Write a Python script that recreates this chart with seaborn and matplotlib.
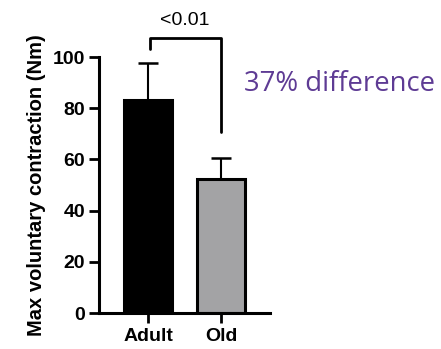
import matplotlib
matplotlib.use("Agg")
import matplotlib.pyplot as plt
import seaborn as sns
import pandas as pd

groups = ["Adult", "Old"]
means = [83.2, 52.3]
errors = [14.3, 8.4]
colors = ["#000000", "#a2a2a6"]
p_label = "<0.01"
note = "37% difference"

sns.set_style("ticks", {"text.color": "black", "axes.labelcolor": "black",
                        "xtick.color": "black", "ytick.color": "black",
                        "axes.edgecolor": "black"})
plt.rcParams['font.family'] = ['Liberation Sans', 'DejaVu Sans']

fig = plt.figure(figsize=(4.41, 3.49), dpi=100)
ax = fig.add_axes([99/441, 1-313/349, (270-99)/441, (313-57)/349])

df = pd.DataFrame({"group": groups, "value": means})
sns.barplot(data=df, x="group", y="value", hue="group", palette=colors,
            width=0.66, edgecolor="black", linewidth=2.2, legend=False, ax=ax,
            zorder=2)
ax.errorbar(range(len(groups)), means, yerr=[[0]*len(errors), errors], fmt="none",
            ecolor="black", elinewidth=1.5, capsize=7, capthick=1.8, zorder=1)

ax.set_xlim(-0.67, 1.67)
ax.set_ylim(0, 100)
ax.set_yticks([0, 20, 40, 60, 80, 100])
sns.despine(ax=ax)
for s in ["left", "bottom"]:
    ax.spines[s].set_linewidth(2.2)
ax.tick_params(axis="both", length=7, width=2, labelsize=14, colors="black")
ax.tick_params(axis="y", pad=3)
ax.tick_params(axis="x", pad=4)
for lab in ax.get_xticklabels() + ax.get_yticklabels():
    lab.set_fontweight("bold")
ax.set_xlabel("")
ax.set_ylabel("Max voluntary contraction (Nm)", fontsize=14.5, fontweight="bold",
              labelpad=5, color="black")

# significance bracket
ax.plot([0.03, 0.03, 1, 1], [103, 107.5, 107.5, 70.8], color="black", lw=2, clip_on=False)
ax.text(0.5, 111, p_label, ha="center", va="bottom", fontsize=14, color="black")

fig.text(244/441, 1-84/349, note, color="#5e3b94", fontsize=19.8,
         family=["Open Sans", "DejaVu Sans"], va="center", ha="left")

fig.savefig("out.png", dpi=100)
